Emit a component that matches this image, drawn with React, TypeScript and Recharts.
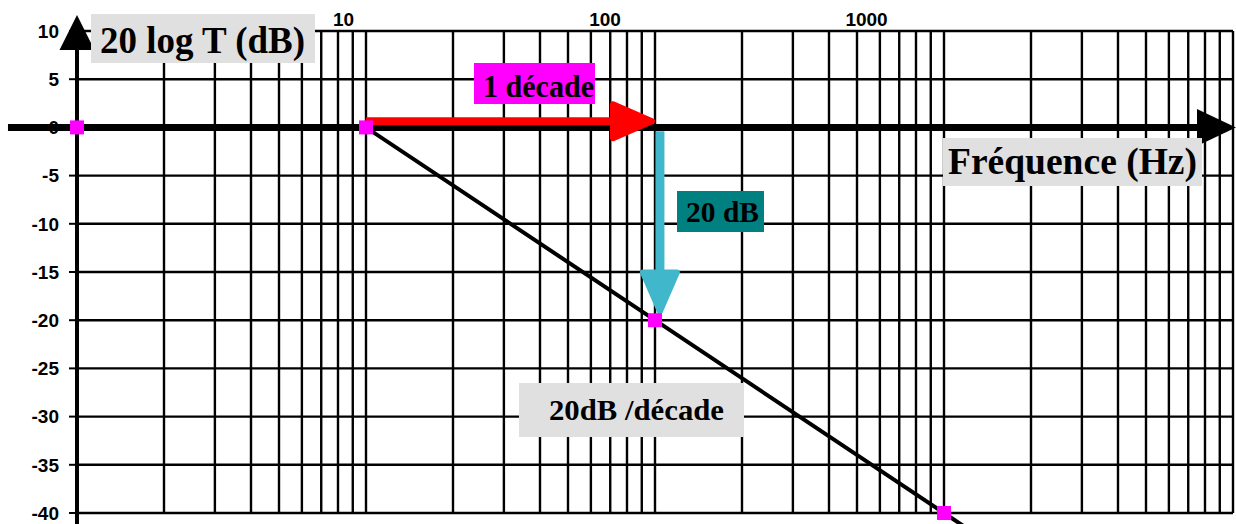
import { LineChart, Line, XAxis, YAxis, CartesianGrid, ReferenceLine } from 'recharts'

// asymptotic Bode magnitude: flat up to the corner, then -20 dB/decade
const frequencies = [1, 10, 100, 1000]
const gainDb = [0, 0, -20, -40]
// the straight line carries on past 1000 Hz and leaves the plot at the bottom
const slopeEnd = { f: 10000, db: -60 }

const gridFreqTicks = [
  1, 2, 3, 4, 5, 6, 7, 8, 9,
  10, 20, 30, 40, 50, 60, 70, 80, 90,
  100, 200, 300, 400, 500, 600, 700, 800, 900,
  1000, 2000, 3000, 4000, 5000, 6000, 7000, 8000, 9000,
  10000,
]
const freqLabelTicks = [10, 100, 1000]
const dbTicks = [10, 5, 0, -5, -10, -15, -20, -25, -30, -35, -40]

// annotation arrows, in data units
const decadeArrow = { from: 10, to: 100, db: 0.65 }
const dropArrow = { f: 104, from: -0.4, to: -19.4 }
const yAxisArrow = { f: 1, from: -42, to: 11.66 }
const xAxisArrow = { from: 0.577, to: 10240, db: 0 }

const data = frequencies.map((f, i) => ({ f, db: gainDb[i] }))

const W = 1236
const H = 524

function arrowShape(p: any, head: number, half: number, round = 0) {
  const { x1, y1, x2, y2, stroke, strokeWidth } = p
  const dx = x2 - x1
  const dy = y2 - y1
  const len = Math.hypot(dx, dy) || 1
  const ux = dx / len
  const uy = dy / len
  const tx = x2 - ux * (round / 2)
  const ty = y2 - uy * (round / 2)
  const bx = x2 - ux * head
  const by = y2 - uy * head
  const nx = -uy
  const ny = ux
  const h = half - round / 2
  const pts = `${tx},${ty} ${bx + nx * h},${by + ny * h} ${bx - nx * h},${by - ny * h}`
  return (
    <g>
      <line x1={x1} y1={y1} x2={bx + ux * 2} y2={by + uy * 2} stroke={stroke} strokeWidth={strokeWidth} />
      <polygon
        points={pts}
        fill={stroke}
        stroke={stroke}
        strokeWidth={round}
        strokeLinejoin="round"
      />
    </g>
  )
}

const SquareDot = (p: any) => (
  <rect key={`dot-${p.index}`} x={p.cx - 7} y={p.cy - 7} width={14} height={14} fill="#ff00ff" />
)

const NoTick = () => <g />

const serif = '"Liberation Serif", "Times New Roman", serif'

function Boxes() {
  const txt = { fontFamily: serif, fontWeight: 700, fill: '#000' }
  return (
    <svg width={W} height={H} style={{ position: 'absolute', left: 0, top: 0, pointerEvents: 'none' }}>
      <rect x={91} y={14} width={224} height={49} fill="#e0e0e0" />
      <text x={100} y={53} fontSize={37} textLength={205} lengthAdjust="spacingAndGlyphs" {...txt}>
        20 log T (dB)
      </text>

      <rect x={474} y={63} width={121} height={41} fill="#ff00ff" />
      <text x={483} y={97} fontSize={31} textLength={111} lengthAdjust="spacingAndGlyphs" {...txt}>
        1 décade
      </text>

      <rect x={943} y={138} width={259} height={48} fill="#e0e0e0" />
      <text x={948} y={174} fontSize={37} textLength={249} lengthAdjust="spacingAndGlyphs" {...txt}>
        Fréquence (Hz)
      </text>

      <rect x={677} y={191} width={87} height={41} fill="#008080" />
      <text x={686} y={222} fontSize={29} textLength={73} lengthAdjust="spacingAndGlyphs" {...txt}>
        20 dB
      </text>

      <rect x={519} y={383} width={225} height={54} fill="#e0e0e0" />
      <text x={549} y={420} fontSize={30} textLength={175} lengthAdjust="spacingAndGlyphs" {...txt}>
        20dB /décade
      </text>
    </svg>
  )
}

export default function App() {
  const tickFont = { fontFamily: '"Liberation Sans", Arial, sans-serif', fontWeight: 700, fill: '#000' }
  return (
    <div style={{ position: 'absolute', left: 0, top: 0, width: W, height: H }}>
      <LineChart width={W} height={H} data={data} margin={{ top: 0, right: 3, bottom: 10, left: 0 }}>
        <CartesianGrid xAxisId="f" stroke="#000" strokeWidth={2.4} />
        {/* log frequency axis carrying the grid */}
        <XAxis
          xAxisId="f"
          dataKey="f"
          type="number"
          scale="log"
          domain={[1, 10000]}
          ticks={gridFreqTicks}
          interval={0}
          orientation="bottom"
          height={1}
          tick={NoTick}
          tickLine={false}
          axisLine={false}
        />
        {/* the printed decade labels sit a bit left of their grid lines in the original */}
        <XAxis
          xAxisId="lbl"
          dataKey="f"
          type="number"
          scale="log"
          domain={[0.957, 25200]}
          allowDataOverflow
          ticks={freqLabelTicks}
          interval={0}
          orientation="top"
          height={31}
          tickSize={0}
          tickMargin={5}
          tickLine={false}
          axisLine={false}
          tick={{ ...tickFont, fontSize: 19 }}
        />
        <YAxis
          type="number"
          domain={[-40, 10]}
          ticks={dbTicks}
          interval={0}
          width={77}
          tickSize={8}
          tickMargin={10}
          axisLine={false}
          tickLine={{ stroke: '#000', strokeWidth: 2 }}
          tick={{ ...tickFont, fontSize: 19 }}
        />
        <Line
          xAxisId="f"
          type="linear"
          dataKey="db"
          stroke="#000"
          strokeWidth={4}
          dot={SquareDot}
          activeDot={false}
          isAnimationActive={false}
        />
        <ReferenceLine
          xAxisId="f"
          segment={[
            { x: frequencies[frequencies.length - 1], y: gainDb[gainDb.length - 1] },
            { x: slopeEnd.f, y: slopeEnd.db },
          ]}
          ifOverflow="visible"
          stroke="#000"
          strokeWidth={4}
        />
        <ReferenceLine
          xAxisId="f"
          segment={[
            { x: xAxisArrow.from, y: xAxisArrow.db },
            { x: xAxisArrow.to, y: xAxisArrow.db },
          ]}
          ifOverflow="visible"
          stroke="#000"
          strokeWidth={7}
          shape={(p: any) => arrowShape(p, 39, 18.5)}
        />
        <ReferenceLine
          xAxisId="f"
          segment={[
            { x: yAxisArrow.f, y: yAxisArrow.from },
            { x: yAxisArrow.f, y: yAxisArrow.to },
          ]}
          ifOverflow="visible"
          stroke="#000"
          strokeWidth={4}
          shape={(p: any) => arrowShape(p, 35, 17.5)}
        />
        <ReferenceLine
          xAxisId="f"
          segment={[
            { x: decadeArrow.from, y: decadeArrow.db },
            { x: decadeArrow.to, y: decadeArrow.db },
          ]}
          ifOverflow="visible"
          stroke="#ff0000"
          strokeWidth={8}
          shape={(p: any) => arrowShape(p, 42, 20, 6)}
        />
        <ReferenceLine
          xAxisId="f"
          segment={[
            { x: dropArrow.f, y: dropArrow.from },
            { x: dropArrow.f, y: dropArrow.to },
          ]}
          ifOverflow="visible"
          stroke="#41b7cc"
          strokeWidth={9}
          shape={(p: any) => arrowShape(p, 42, 20, 6)}
        />
      </LineChart>
      <Boxes />
    </div>
  )
}
